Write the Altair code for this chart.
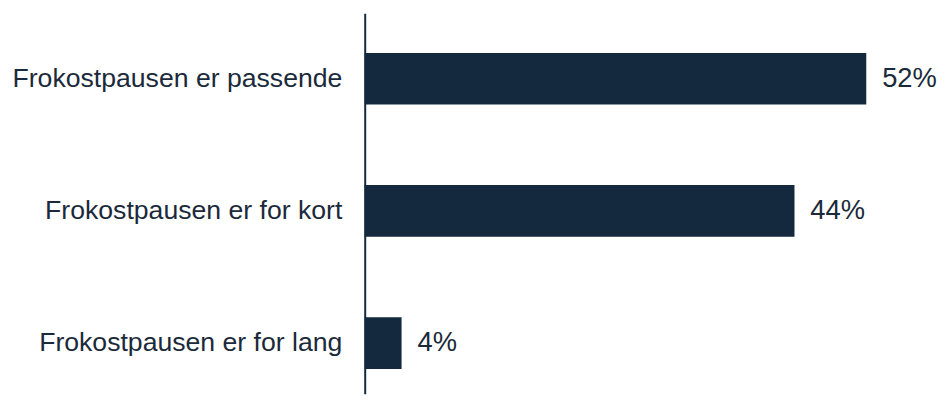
import altair as alt
import pandas as pd

categories = ["Frokostpausen er passende", "Frokostpausen er for kort", "Frokostpausen er for lang"]
values = [51.7, 44.3, 3.8]
labels = ["52%", "44%", "4%"]

df = pd.DataFrame({"cat": categories, "value": values, "label": labels})

NAVY = "#14293e"
TEXT = "#1b2a3a"
FONT = "Liberation Sans"

base = alt.Chart(df).encode(
    y=alt.Y(
        "cat:N",
        sort=categories,
        scale=alt.Scale(paddingInner=0.609, paddingOuter=0.2445, align=0.615),
        axis=alt.Axis(
            title=None, ticks=False, domain=True, domainColor=NAVY, domainWidth=2,
            labelFontSize=26.8, labelColor=TEXT, labelPadding=23, labelFont=FONT,
            labelLimit=0, grid=False,
        ),
    )
)

bars = base.mark_bar(color=NAVY).encode(
    x=alt.X("value:Q", scale=alt.Scale(domain=[0, 54.5]), axis=None)
)

text = base.mark_text(
    align="left", baseline="middle", dx=16, fontSize=27.5, font=FONT, color=TEXT
).encode(x=alt.X("value:Q"), text="label:N")

chart = (
    (bars + text)
    .properties(
        width=537, height=383,
        autosize="none",
        padding={"left": 359, "top": 4, "right": 44, "bottom": 0},
    )
    .configure_view(stroke=None)
)

chart.save("out.html", embed_options={"renderer": "svg", "actions": False})
